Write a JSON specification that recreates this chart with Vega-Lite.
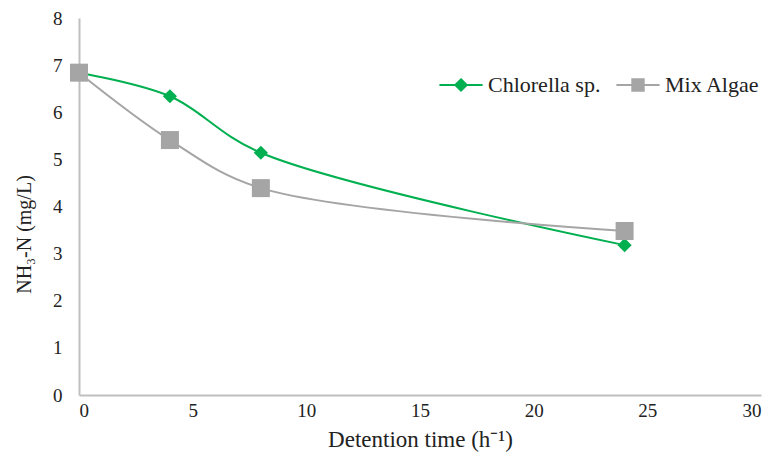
{
  "$schema": "https://vega.github.io/schema/vega-lite/v6.json",
  "width": 682,
  "height": 377,
  "autosize": "none",
  "padding": {"left": 79, "top": 18, "right": 11, "bottom": 69},
  "background": "white",
  "config": {
    "view": {"stroke": null},
    "font": "Liberation Serif",
    "axis": {"labelFont": "Liberation Serif", "titleFont": "Liberation Serif", "labelColor": "#222", "titleColor": "#222", "labelFontSize": 19, "titleFontSize": 21, "titleFontWeight": "normal", "domainColor": "#BFBFBF", "domainWidth": 2, "ticks": false, "grid": false}
  },
  "data": {
    "values": [
      {"time": 0, "nh3": 6.84, "series": "Chlorella sp."},
      {"time": 4, "nh3": 6.34, "series": "Chlorella sp."},
      {"time": 8, "nh3": 5.14, "series": "Chlorella sp."},
      {"time": 24, "nh3": 3.18, "series": "Chlorella sp."},
      {"time": 0, "nh3": 6.84, "series": "Mix Algae"},
      {"time": 4, "nh3": 5.41, "series": "Mix Algae"},
      {"time": 8, "nh3": 4.39, "series": "Mix Algae"},
      {"time": 24, "nh3": 3.48, "series": "Mix Algae"}
    ]
  },
  "encoding": {
    "x": {"field": "time", "type": "quantitative", "scale": {"domain": [0, 30], "nice": false}, "axis": {"values": [0, 5, 10, 15, 20, 25, 30], "labelFont": "Liberation Serif", "labelPadding": 6, "title": "Detention time (h⁻¹)", "titleFont": "Liberation Serif", "titleFontSize": 23, "titlePadding": 8}},
    "y": {"field": "nh3", "type": "quantitative", "scale": {"domain": [0, 8], "nice": false}, "axis": {"values": [0, 1, 2, 3, 4, 5, 6, 7, 8], "labelFont": "Liberation Serif", "labelPadding": 17, "title": "NH₃-N (mg/L)", "titleFont": "Liberation Serif", "titleFontSize": 20, "titleX": -55, "titleY": 216, "titleBaseline": "middle", "titleAlign": "center", "titleAngle": -90}},
    "color": {"field": "series", "type": "nominal", "scale": {"domain": ["Chlorella sp.", "Mix Algae"], "range": ["#00B050", "#A5A5A5"]},
      "legend": {"title": null, "orient": "none", "legendX": 371, "legendY": 56, "direction": "horizontal", "labelFont": "Liberation Serif", "labelFontSize": 22, "labelColor": "#222", "symbolSize": 144, "symbolStrokeWidth": 2, "columnPadding": 11, "labelOffset": 16,
        "encode": {"symbols": {"update": {
          "shape": {"signal": "datum.value === 'Chlorella sp.' ? 'M-3.6,0H3.6M0,-0.95L0.95,0L0,0.95L-0.95,0Z' : 'M-3.6,0H3.6M-0.95,-0.95H0.95V0.95H-0.95Z'"},
          "fill": {"signal": "datum.value === 'Chlorella sp.' ? '#00B050' : '#A5A5A5'"},
          "stroke": {"signal": "datum.value === 'Chlorella sp.' ? '#00B050' : '#A5A5A5'"},
          "opacity": {"value": 1}
        }}}}
    }
  },
  "layer": [
    {"mark": {"type": "line", "interpolate": "catmull-rom", "strokeWidth": 2}},
    {"transform": [{"filter": "datum.series === 'Chlorella sp.'"}],
     "mark": {"type": "point", "filled": true, "opacity": 1, "shape": "diamond", "size": 200}},
    {"transform": [{"filter": "datum.series === 'Mix Algae'"}],
     "mark": {"type": "point", "filled": true, "opacity": 1, "shape": "square", "size": 324}}
  ]
}
